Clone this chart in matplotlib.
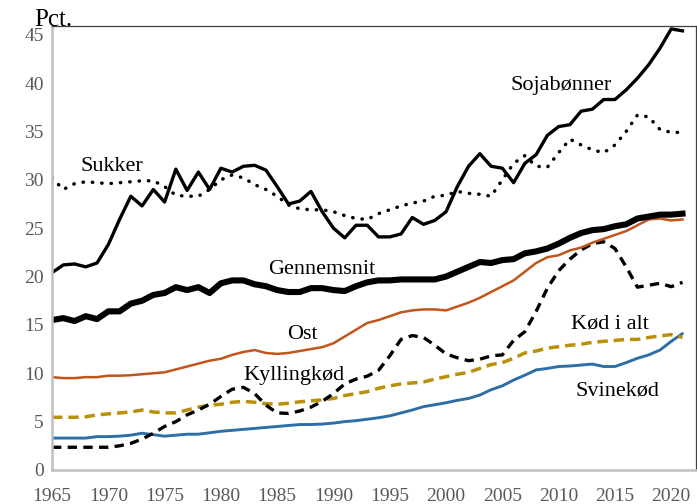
import numpy as np
import matplotlib
matplotlib.use("Agg")
from matplotlib import pyplot as plt

plt.rcParams['font.family'] = ['Liberation Serif', 'DejaVu Serif']

years = np.arange(1965, 2022)

soja = [20.4, 21.2, 21.3, 21.0, 21.4, 23.3, 25.9, 28.3, 27.3, 29.0,
        27.7, 31.1, 28.9, 30.8, 29.0, 31.2, 30.8, 31.4, 31.5, 31.0,
        29.3, 27.5, 27.8, 28.8, 26.7, 25.0, 24.0, 25.3, 25.3, 24.1,
        24.1, 24.4, 26.1, 25.4, 25.8, 26.7, 29.3, 31.4, 32.7, 31.4,
        31.2, 29.7, 31.7, 32.6, 34.6, 35.5, 35.7, 37.1, 37.3, 38.3,
        38.3, 39.3, 40.5, 41.9, 43.6, 45.6, 45.4]

sukker = [30.2, 29.0, 29.6, 29.8, 29.7, 29.6, 29.7, 29.8, 29.9, 29.9,
          29.3, 28.4, 28.3, 28.3, 29.0, 30.0, 30.5, 30.2, 29.5, 29.0,
          28.3, 27.4, 27.0, 26.9, 26.9, 26.7, 26.3, 26.0, 25.9, 26.5,
          26.9, 27.3, 27.6, 27.8, 28.3, 28.4, 28.8, 28.6, 28.5, 28.3,
          30.0, 31.7, 32.5, 31.4, 31.3, 32.8, 34.2, 33.6, 33.1, 32.8,
          33.6, 35.0, 36.7, 36.5, 35.2, 34.9, 34.9]

gennemsnit = [15.5, 15.7, 15.4, 15.9, 15.6, 16.4, 16.4, 17.2, 17.5, 18.1,
              18.3, 18.9, 18.6, 18.9, 18.3, 19.3, 19.6, 19.6, 19.2, 19.0,
              18.6, 18.4, 18.4, 18.8, 18.8, 18.6, 18.5, 19.0, 19.4, 19.6,
              19.6, 19.7, 19.7, 19.7, 19.7, 20.0, 20.5, 21.0, 21.5, 21.4,
              21.7, 21.8, 22.4, 22.6, 22.9, 23.4, 24.0, 24.5, 24.8, 24.9,
              25.2, 25.4, 26.0, 26.2, 26.4, 26.4, 26.5]

ost = [9.6, 9.5, 9.5, 9.6, 9.6, 9.75, 9.75, 9.8, 9.9, 10.0,
       10.1, 10.4, 10.7, 11.0, 11.3, 11.5, 11.9, 12.2, 12.4, 12.1,
       12.0, 12.1, 12.3, 12.5, 12.7, 13.1, 13.8, 14.5, 15.2, 15.5,
       15.9, 16.3, 16.5, 16.6, 16.6, 16.5, 16.9, 17.3, 17.8, 18.4,
       19.0, 19.6, 20.5, 21.4, 22.0, 22.2, 22.7, 23.0, 23.5, 23.9,
       24.3, 24.7, 25.3, 25.9, 26.0, 25.8, 25.9]

kylling = [2.35, 2.35, 2.35, 2.35, 2.35, 2.35, 2.5, 2.75, 3.2, 3.8,
           4.5, 5.0, 5.7, 6.2, 6.8, 7.6, 8.35, 8.55, 7.9, 6.7,
           5.9, 5.85, 6.1, 6.5, 7.1, 7.9, 8.9, 9.4, 9.7, 10.3,
           11.8, 13.5, 13.9, 13.7, 12.9, 12.0, 11.6, 11.3, 11.45, 11.8,
           11.9, 13.4, 14.3, 16.4, 18.8, 20.6, 21.8, 22.75, 23.4, 23.6,
           22.9, 21.0, 18.9, 19.1, 19.3, 18.95, 19.4]

koed_i_alt = [5.45, 5.45, 5.45, 5.5, 5.7, 5.8, 5.9, 6.0, 6.2, 6.0,
              5.9, 5.9, 6.2, 6.5, 6.7, 6.8, 7.0, 7.1, 7.0, 6.85,
              6.8, 6.9, 7.05, 7.15, 7.25, 7.4, 7.7, 7.9, 8.1, 8.45,
              8.7, 8.9, 9.0, 9.1, 9.4, 9.65, 9.9, 10.1, 10.5, 10.9,
              11.1, 11.55, 12.1, 12.3, 12.6, 12.75, 12.9, 13.0, 13.2, 13.3,
              13.4, 13.5, 13.5, 13.7, 13.85, 14.0, 13.7]

svinekoed = [3.3, 3.3, 3.3, 3.3, 3.45, 3.45, 3.5, 3.6, 3.8, 3.65,
             3.5, 3.6, 3.7, 3.7, 3.85, 4.0, 4.1, 4.2, 4.3, 4.4,
             4.5, 4.6, 4.7, 4.7, 4.75, 4.85, 5.0, 5.1, 5.25, 5.4,
             5.6, 5.9, 6.2, 6.55, 6.75, 6.95, 7.2, 7.4, 7.75, 8.3,
             8.7, 9.3, 9.8, 10.35, 10.5, 10.7, 10.75, 10.85, 10.95, 10.7,
             10.7, 11.1, 11.55, 11.9, 12.4, 13.3, 14.1]

labels = {
    "Sukker": (1970.3, 31.4),
    "Sojabønner": (2010.2, 39.7),
    "Gennemsnit": (1989.0, 20.7),
    "Ost": (1987.2, 14.0),
    "Kyllingkød": (1986.5, 9.8),
    "Kød i alt": (2014.6, 15.1),
    "Svinekød": (2015.2, 8.2),
}

fig = plt.figure(figsize=(6.97, 5.04), dpi=100)
ax = fig.add_axes([52 / 697, 1 - 470 / 504, 644 / 697, 444 / 504])

ax.plot(years, svinekoed, color='#2E6EA6', lw=2.1, solid_capstyle='round')
ax.plot(years, koed_i_alt, color='#B8900A', lw=2.5, dashes=(3.0, 1.7))
ax.plot(years, kylling, color='black', lw=2.4, dashes=(2.8, 1.9))
ax.plot(years, ost, color='#C0561B', lw=1.8)
ax.plot(years, gennemsnit, color='black', lw=4.4, solid_joinstyle='round')
ax.plot(years, sukker, color='black', lw=2.5, linestyle=(0, (0.1, 2.6)),
        dash_capstyle='round')
ax.plot(years, soja, color='black', lw=2.4)

for txt, (x, y) in labels.items():
    ax.text(x, y, txt, fontsize=16, ha='center', va='center', color='black')

fig.text(53 / 697, 1 - 20 / 504, "Pct.", fontsize=18, ha='center', va='center')

ax.set_xlim(1965, 2022.2)
ax.set_ylim(0, 45.9)
ax.set_xticks(np.arange(1965, 2021, 5))
ax.set_yticks(np.arange(0, 46, 5))
ax.tick_params(length=0, labelsize=14, labelcolor='#595959', pad=6)
ax.tick_params(axis='x', pad=13)

for side in ['left', 'bottom']:
    ax.spines[side].set_color('#BFBFBF')
    ax.spines[side].set_linewidth(1.8)
for side in ['top', 'right']:
    ax.spines[side].set_color('#404040')
    ax.spines[side].set_linewidth(0.9)

fig.savefig("out.png", dpi=100)
